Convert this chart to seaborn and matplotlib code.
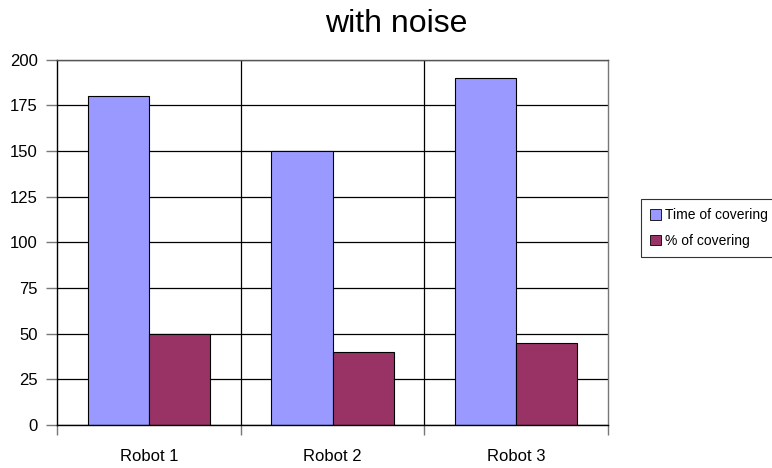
import matplotlib
matplotlib.use("Agg")
import matplotlib.pyplot as plt
import seaborn as sns
import pandas as pd

# Chart data
robots = ["Robot 1", "Robot 2", "Robot 3"]
series_names = ["Time of covering", "% of covering"]
time_of_covering = [180, 150, 190]
pct_of_covering = [50, 40, 45]
y_ticks = [0, 25, 50, 75, 100, 125, 150, 175, 200]
colors = ["#9999FF", "#993366"]

df = pd.DataFrame({
    "robot": robots * 2,
    "series": [series_names[0]] * 3 + [series_names[1]] * 3,
    "value": time_of_covering + pct_of_covering,
})

sns.set_theme(style="white")
plt.rcParams["font.family"] = ["Liberation Sans", "DejaVu Sans"]
plt.rcParams["text.color"] = "black"
plt.rcParams["xtick.color"] = "black"
plt.rcParams["ytick.color"] = "black"

fig = plt.figure(figsize=(7.72, 4.68), dpi=100)
ax = fig.add_axes([57 / 772, 1 - 425 / 468, (608 - 57) / 772, (425 - 59.5) / 468])

sns.barplot(data=df, x="robot", y="value", hue="series", order=robots,
            hue_order=series_names, palette=colors, width=0.665,
            edgecolor="black", linewidth=0.8, saturation=1, ax=ax,
            legend=True, errorbar=None)

ax.set_xlim(-0.5, 2.5)
ax.set_ylim(0, 200)
ax.set_yticks(y_ticks)
ax.set_xlabel("")
ax.set_ylabel("")
ax.set_axisbelow(True)
ax.yaxis.grid(True, color="black", linewidth=0.9)
ax.xaxis.grid(False)
for b in [0.5, 1.5]:
    ax.axvline(b, color="black", linewidth=0.9, zorder=0.5)

for side in ["left", "bottom"]:
    ax.spines[side].set_color("black")
    ax.spines[side].set_linewidth(1.0)
ax.spines["top"].set_color("#555555")
ax.spines["right"].set_color("#777777")
ax.spines["top"].set_linewidth(1.0)
ax.spines["right"].set_linewidth(1.0)

ax.tick_params(axis="y", which="major", length=8, width=1, color="#777777",
               labelcolor="black", pad=6, labelsize=12, left=True)
ax.tick_params(axis="x", which="major", length=0, pad=17, labelsize=12,
               labelcolor="black")
ax.set_xticks([-0.5, 0.5, 1.5, 2.5], minor=True)
ax.tick_params(axis="x", which="minor", length=7.5, width=1, color="#777777",
               bottom=True)

fig.text(396.5 / 772, 1 - 32 / 468, "with noise", ha="center", va="baseline",
         fontsize=23, color="black")

ax.legend_.remove()
handles, labels = ax.get_legend_handles_labels()
leg = fig.legend(handles, labels, loc="upper left",
                 bbox_to_anchor=(641 / 772, 1 - 199 / 468),
                 bbox_transform=fig.transFigure, fontsize=10,
                 frameon=True, fancybox=False, edgecolor="black",
                 handlelength=0.8, handleheight=0.8, handletextpad=0.25,
                 borderpad=0.65, labelspacing=0.85, borderaxespad=0)
leg.get_frame().set_linewidth(0.8)
for h in leg.legend_handles:
    h.set_edgecolor("black")
    h.set_linewidth(0.6)

fig.savefig("out.png", dpi=100)
